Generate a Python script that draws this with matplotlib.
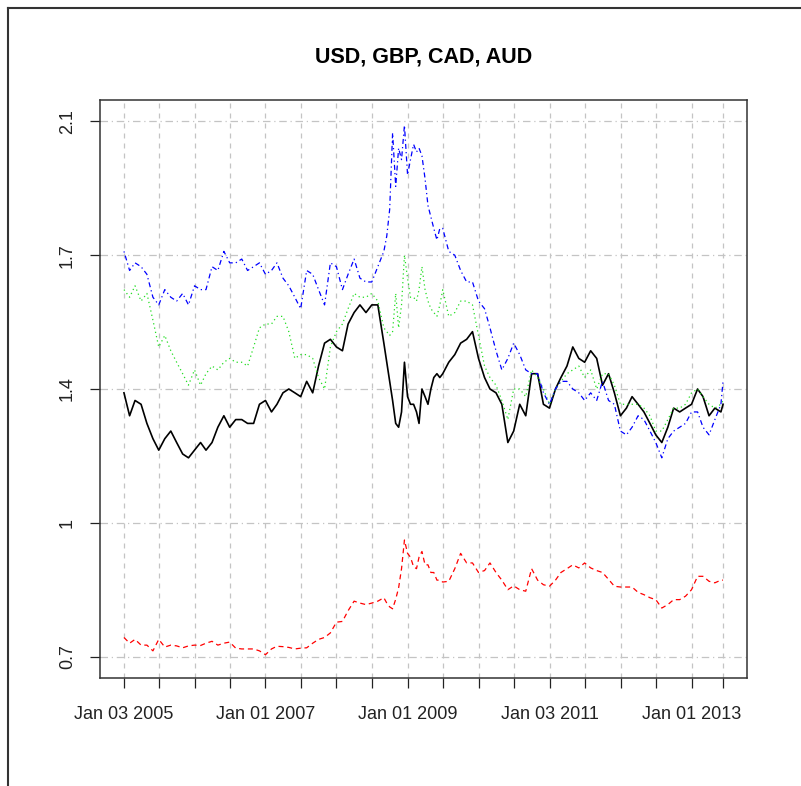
import matplotlib
matplotlib.use("Agg")
import matplotlib.pyplot as plt
from matplotlib.lines import Line2D
import pandas as pd

plt.rcParams['font.family'] = ['Liberation Sans', 'DejaVu Sans']

# monthly observations, twice a month through the 2008-09 turmoil, plus the last day
dates = (list(pd.date_range("2005-01-01", "2008-08-01", freq="MS"))
         + [d + pd.Timedelta(days=k) for d in pd.date_range("2008-09-01", "2009-06-01", freq="MS")
            for k in (0, 15)]
         + list(pd.date_range("2009-07-01", "2013-06-01", freq="MS")))
dates[0] = pd.Timestamp("2005-01-03")
dates.append(pd.Timestamp("2013-06-12"))

usd = [1.39, 1.33, 1.37, 1.36, 1.31, 1.27, 1.24, 1.27, 1.29, 1.26,
       1.23, 1.22, 1.24, 1.26, 1.24, 1.26, 1.30, 1.33, 1.30, 1.32,
       1.32, 1.31, 1.31, 1.36, 1.37, 1.34, 1.36, 1.39, 1.40, 1.39,
       1.38, 1.42, 1.39, 1.46, 1.52, 1.53, 1.51, 1.50, 1.57, 1.60,
       1.62, 1.60, 1.62, 1.62,
       1.52, 1.47, 1.42, 1.37, 1.31, 1.30, 1.34, 1.47, 1.38, 1.36,
       1.36, 1.34, 1.31, 1.40, 1.38, 1.36, 1.40, 1.43, 1.44, 1.43,
       1.44, 1.47, 1.49, 1.52, 1.53, 1.55,
       1.48, 1.43, 1.40, 1.39, 1.36, 1.26, 1.29, 1.36, 1.33, 1.44,
       1.44, 1.36, 1.35, 1.40, 1.43, 1.46, 1.51, 1.48, 1.47, 1.50,
       1.48, 1.41, 1.44, 1.39, 1.33, 1.35, 1.38, 1.36, 1.34, 1.31,
       1.28, 1.26, 1.30, 1.35, 1.34, 1.35, 1.36, 1.40, 1.38, 1.33,
       1.35, 1.34, 1.36]

gbp = [0.750, 0.735, 0.745, 0.730, 0.730, 0.715, 0.745, 0.725, 0.730, 0.728,
       0.723, 0.728, 0.730, 0.729, 0.735, 0.740, 0.730, 0.735, 0.738, 0.722,
       0.720, 0.720, 0.720, 0.715, 0.705, 0.720, 0.727, 0.726, 0.724, 0.720,
       0.722, 0.723, 0.735, 0.745, 0.750, 0.762, 0.790, 0.792, 0.820, 0.845,
       0.840, 0.836, 0.840, 0.845,
       0.854, 0.840, 0.830, 0.825, 0.850, 0.880, 0.930, 1.005, 0.970, 0.960,
       0.935, 0.930, 0.960, 0.975, 0.940, 0.940, 0.920, 0.920, 0.900, 0.900,
       0.895, 0.897, 0.930, 0.970, 0.945, 0.945,
       0.920, 0.925, 0.945, 0.920, 0.900, 0.875, 0.885, 0.875, 0.871, 0.930,
       0.900, 0.888, 0.884, 0.900, 0.920, 0.930, 0.940, 0.932, 0.945, 0.932,
       0.925, 0.920, 0.902, 0.884, 0.882, 0.882, 0.882, 0.868, 0.862, 0.854,
       0.849, 0.827, 0.836, 0.849, 0.849, 0.858, 0.875, 0.910, 0.910, 0.897,
       0.893, 0.900, 0.900]

cad = [1.66, 1.64, 1.67, 1.63, 1.65, 1.58, 1.51, 1.54, 1.50, 1.47,
       1.44, 1.41, 1.45, 1.41, 1.44, 1.46, 1.45, 1.47, 1.48, 1.47,
       1.47, 1.46, 1.51, 1.56, 1.57, 1.57, 1.59, 1.59, 1.55, 1.48,
       1.49, 1.49, 1.48, 1.43, 1.40, 1.51, 1.55, 1.57, 1.61, 1.65,
       1.64, 1.64, 1.65, 1.63,
       1.56, 1.55, 1.54, 1.55, 1.65, 1.56, 1.62, 1.75, 1.69, 1.64,
       1.64, 1.63, 1.66, 1.72, 1.66, 1.63, 1.61, 1.60, 1.59, 1.62,
       1.66, 1.59, 1.60, 1.63, 1.63, 1.62,
       1.54, 1.46, 1.43, 1.41, 1.37, 1.32, 1.40, 1.40, 1.38, 1.45,
       1.43, 1.40, 1.36, 1.40, 1.42, 1.44, 1.45, 1.46, 1.43, 1.45,
       1.40, 1.44, 1.44, 1.41, 1.36, 1.36, 1.36, 1.36, 1.35, 1.33,
       1.29, 1.29, 1.32, 1.35, 1.35, 1.36, 1.39, 1.40, 1.38, 1.36,
       1.35, 1.36, 1.37]

aud = [1.76, 1.71, 1.73, 1.72, 1.70, 1.64, 1.62, 1.66, 1.64, 1.63,
       1.65, 1.62, 1.67, 1.66, 1.66, 1.72, 1.71, 1.76, 1.73, 1.73,
       1.74, 1.71, 1.72, 1.73, 1.70, 1.71, 1.73, 1.69, 1.67, 1.64,
       1.61, 1.71, 1.70, 1.66, 1.62, 1.73, 1.72, 1.66, 1.70, 1.74,
       1.69, 1.68, 1.68, 1.72,
       1.76, 1.80, 1.87, 2.07, 1.93, 2.03, 2.00, 2.09, 1.96, 2.00,
       2.04, 2.02, 2.03, 2.01, 1.95, 1.88, 1.85, 1.82, 1.79, 1.82,
       1.82, 1.76, 1.75, 1.71, 1.68, 1.68,
       1.63, 1.61, 1.56, 1.50, 1.45, 1.48, 1.52, 1.49, 1.45, 1.44,
       1.44, 1.39, 1.36, 1.40, 1.42, 1.42, 1.40, 1.39, 1.37, 1.39,
       1.37, 1.42, 1.37, 1.36, 1.29, 1.28, 1.30, 1.33, 1.32, 1.29,
       1.26, 1.22, 1.27, 1.29, 1.30, 1.31, 1.34, 1.34, 1.30, 1.28,
       1.32, 1.36, 1.42]

# axis ticks: every half year plus the last observation
x_ticks = ["2005-01-03", "2005-07-01", "2006-01-02", "2006-07-03",
           "2007-01-01", "2007-07-02", "2008-01-01", "2008-07-01",
           "2009-01-01", "2009-07-01", "2010-01-01", "2010-07-01",
           "2011-01-03", "2011-07-01", "2012-01-02", "2012-07-02",
           "2013-01-01", "2013-06-12"]
x_labels = ["Jan 03 2005", "", "", "", "Jan 01 2007", "", "", "",
            "Jan 01 2009", "", "", "", "Jan 03 2011", "", "", "",
            "Jan 01 2013", ""]
y_ticks = [0.7, 1.05, 1.4, 1.75, 2.1]
y_labels = ["0.7", "1", "1.4", "1.7", "2.1"]

fig = plt.figure(figsize=(8.01, 7.86), dpi=100)
ax = fig.add_axes([100 / 801, 1 - 678 / 786, 647 / 801, 578 / 786])

ax.plot(dates, usd, color="black", lw=1.2, zorder=3)
ax.plot(dates, gbp, color="red", lw=0.9, linestyle=(0, (4, 3)), zorder=3)
ax.plot(dates, cad, color="#22DD22", lw=0.9, linestyle=(0, (1, 2.5)), zorder=3)
ax.plot(dates, aud, color="blue", lw=0.9, linestyle=(0, (1, 2.5, 4, 2.5)), zorder=3)

xt = pd.to_datetime(x_ticks)
ax.set_xticks(xt)
ax.set_xticklabels(x_labels)
ax.set_yticks(y_ticks)
ax.set_yticklabels(y_labels, rotation=90, va="center")

span = dates[-1] - dates[0]
ax.set_xlim(dates[0] - span * 0.04, dates[-1] + span * 0.04)
ax.set_ylim(0.644, 2.156)

for t in xt:
    ax.axvline(t, color="#C4C4C4", lw=0.9, linestyle=(0, (4, 4)), zorder=1)
for v in y_ticks:
    ax.axhline(v, color="#C4C4C4", lw=0.9, linestyle=(0, (6, 3, 1, 3)), zorder=1)

ax.tick_params(axis="both", direction="out", length=7.2, width=0.9,
               labelsize=13, colors="#222222")
ax.tick_params(axis="x", pad=13)
ax.tick_params(axis="y", pad=10)
for s in ax.spines.values():
    s.set_color("#333333")
    s.set_linewidth(1.1)

fig.text(423.5 / 801, 1 - 57 / 786, "USD, GBP, CAD, AUD", ha="center",
         va="center", fontsize=15.5, fontweight="bold")

# screenshot frame on the top and left edges
fig.add_artist(Line2D([8 / 801, 8 / 801], [0, 1 - 8 / 786], color="#333333", lw=1.5))
fig.add_artist(Line2D([8 / 801, 1], [1 - 8 / 786, 1 - 8 / 786], color="#333333", lw=1.5))

fig.savefig("out.png", dpi=100)
